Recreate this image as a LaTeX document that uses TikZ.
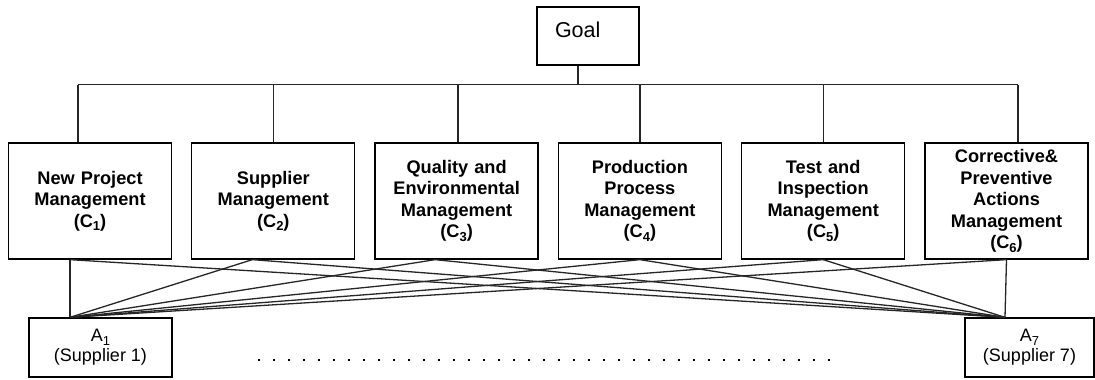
\documentclass[tikz,border=0pt]{standalone}
\usepackage{fontspec}
\setmainfont{Liberation Sans}
\usetikzlibrary{positioning}

% lowered index like C_1, in the running font
\newcommand{\subidx}[1]{\raisebox{-0.35ex}{\fontsize{13}{13}\selectfont #1}}

\begin{document}
\begin{tikzpicture}[x=1pt,y=1pt]

        % Define block styles
        \tikzstyle{goalbox} = [rectangle, draw, line width=1.3pt, text width=66pt, align=left, inner xsep=18pt, inner ysep=0pt, text height=30pt, text depth=28pt, font=\fontsize{21.5}{25}\selectfont]
        \tikzstyle{criterion} = [rectangle, draw, line width=1.3pt, text width=163pt, align=center, inner sep=0pt, minimum height=116pt, font=\fontsize{18.2}{21.5}\selectfont\bfseries]
        \tikzstyle{alternative} = [rectangle, draw, line width=1.3pt, align=center, inner sep=0pt, minimum height=59pt, font=\fontsize{18}{20}\selectfont]
        \tikzstyle{link} = [line width=1.3pt, black!85]

        \useasboundingbox (0,0) rectangle (1095,-380);

        % Goal and criteria
        \node (goal) [goalbox] at (588,-36) {Goal};
        \node (c1) [criterion] at (90,-201) {New Project\\ Management\\ (C\subidx{1})};
        \node (c2) [criterion, right=19pt of c1] {Supplier\\ Management\\ (C\subidx{2})};
        \node (c3) [criterion, right=19pt of c2] {Quality and\\ Environmental\\ Management\\ (C\subidx{3})};
        \node (c4) [criterion, right=19pt of c3] {Production\\ Process\\ Management\\ (C\subidx{4})};
        \node (c5) [criterion, right=19pt of c4] {Test and\\ Inspection\\ Management\\ (C\subidx{5})};
        \node (c6) [criterion, right=19pt of c5] {Corrective\&\\ Preventive\\ Actions\\ Management\\ (C\subidx{6})};

        % Alternatives
        \node (a1) [alternative, minimum width=143pt] at (100.5,-347.5) {A\subidx{1}\\ (Supplier 1)};
        \node (a7) [alternative, minimum width=129pt] at (1029.5,-347.5) {A\subidx{7}\\ (Supplier 7)};

        % Tree from the goal
        \coordinate (bus) at ([xshift=-10pt, yshift=-19pt]goal.south);
        \draw [link] ([xshift=-10pt]goal.south) -- (bus);
        \draw [link] ([xshift=-12pt]c1.north |- bus) -- ([xshift=11.5pt]c6.north |- bus);
        \foreach \c/\dx in {c1/-12, c2/0, c3/1.5, c4/0, c5/0, c6/11.5}
          \draw [link] ([xshift=\dx pt]\c.north) -- ([xshift=\dx pt]\c.north |- bus);

        % Every criterion to both alternatives
        \foreach \c/\dx in {c1/-20, c2/-21, c3/-21.5, c4/0, c5/0, c6/0} {
          \draw [link] ([xshift=\dx pt]\c.south) -- ([xshift=-30.5pt]a1.north);
          \draw [link] ([xshift=\dx pt]\c.south) -- ([xshift=-24.5pt]a7.north);
        }

        % Dots between A1 and A7
        \coordinate (dotsl) at (258,-360);
        \coordinate (dotsr) at (835,-360);
        \draw [line width=2.2pt, dash pattern=on 2.2pt off 12.8pt] (dotsl) -- (dotsr);

\end{tikzpicture}
\end{document}
